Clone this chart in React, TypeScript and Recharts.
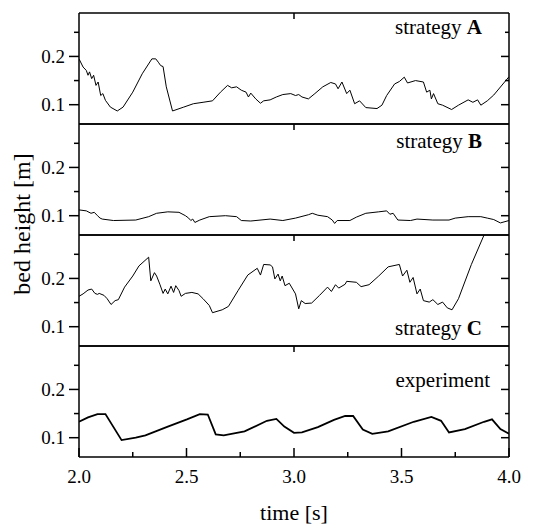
import React from "react";
import { LineChart, Line, XAxis, YAxis } from "recharts";

// strategy A
const timeA = [2.0, 2.019, 2.034, 2.042, 2.049, 2.059, 2.068, 2.079, 2.089, 2.101, 2.111, 2.123, 2.146, 2.178, 2.205, 2.25, 2.294, 2.339, 2.357, 2.369, 2.38, 2.391, 2.406, 2.435, 2.487, 2.532, 2.577, 2.621, 2.658, 2.691, 2.71, 2.733, 2.755, 2.777, 2.788, 2.799, 2.822, 2.844, 2.859, 2.889, 2.918, 2.948, 2.985, 3.007, 3.022, 3.037, 3.067, 3.097, 3.134, 3.171, 3.193, 3.205, 3.223, 3.245, 3.26, 3.282, 3.305, 3.334, 3.386, 3.409, 3.431, 3.468, 3.49, 3.513, 3.528, 3.565, 3.602, 3.617, 3.632, 3.639, 3.649, 3.669, 3.691, 3.733, 3.765, 3.81, 3.832, 3.854, 3.869, 3.899, 3.929, 4.0];
const heightA = [0.195, 0.178, 0.171, 0.161, 0.168, 0.154, 0.161, 0.14, 0.147, 0.119, 0.123, 0.109, 0.095, 0.087, 0.095, 0.126, 0.164, 0.195, 0.195, 0.188, 0.181, 0.179, 0.137, 0.087, 0.095, 0.102, 0.105, 0.108, 0.126, 0.14, 0.135, 0.137, 0.13, 0.126, 0.116, 0.124, 0.112, 0.103, 0.108, 0.11, 0.116, 0.121, 0.123, 0.119, 0.121, 0.116, 0.112, 0.123, 0.137, 0.146, 0.143, 0.133, 0.147, 0.123, 0.13, 0.102, 0.108, 0.094, 0.092, 0.099, 0.119, 0.143, 0.148, 0.157, 0.145, 0.15, 0.147, 0.126, 0.13, 0.112, 0.123, 0.102, 0.099, 0.09, 0.099, 0.11, 0.105, 0.11, 0.099, 0.108, 0.12, 0.158];

// strategy B
const timeB = [2.0, 2.034, 2.056, 2.071, 2.086, 2.098, 2.108, 2.16, 2.264, 2.324, 2.361, 2.413, 2.465, 2.495, 2.51, 2.52, 2.529, 2.539, 2.562, 2.606, 2.681, 2.733, 2.755, 2.799, 2.889, 2.948, 3.007, 3.067, 3.085, 3.111, 3.156, 3.178, 3.189, 3.201, 3.26, 3.29, 3.334, 3.394, 3.431, 3.446, 3.461, 3.483, 3.542, 3.572, 3.646, 3.721, 3.75, 3.81, 3.869, 3.899, 3.929, 3.96, 4.0];
const heightB = [0.112, 0.11, 0.105, 0.107, 0.1, 0.095, 0.093, 0.09, 0.091, 0.098, 0.105, 0.108, 0.107, 0.1, 0.095, 0.09, 0.093, 0.086, 0.091, 0.098, 0.1, 0.098, 0.09, 0.089, 0.093, 0.09, 0.095, 0.102, 0.105, 0.101, 0.098, 0.091, 0.084, 0.09, 0.09, 0.097, 0.105, 0.108, 0.11, 0.103, 0.105, 0.091, 0.09, 0.093, 0.091, 0.091, 0.095, 0.098, 0.098, 0.095, 0.092, 0.085, 0.09];

// strategy C
const timeC = [2.0, 2.019, 2.042, 2.059, 2.074, 2.086, 2.094, 2.116, 2.131, 2.149, 2.168, 2.183, 2.212, 2.25, 2.279, 2.324, 2.334, 2.351, 2.361, 2.376, 2.391, 2.401, 2.413, 2.428, 2.44, 2.45, 2.465, 2.475, 2.495, 2.525, 2.554, 2.577, 2.606, 2.621, 2.666, 2.695, 2.74, 2.785, 2.829, 2.844, 2.859, 2.889, 2.9, 2.911, 2.926, 2.936, 2.945, 2.958, 2.978, 3.007, 3.022, 3.034, 3.052, 3.082, 3.119, 3.156, 3.174, 3.193, 3.208, 3.238, 3.245, 3.29, 3.312, 3.349, 3.394, 3.438, 3.49, 3.505, 3.525, 3.539, 3.554, 3.572, 3.587, 3.602, 3.629, 3.646, 3.669, 3.691, 3.713, 3.735, 3.765, 3.825, 3.884, 3.92];
const heightC = [0.163, 0.168, 0.176, 0.178, 0.169, 0.167, 0.169, 0.165, 0.158, 0.146, 0.154, 0.156, 0.182, 0.205, 0.226, 0.244, 0.195, 0.212, 0.205, 0.188, 0.169, 0.178, 0.168, 0.184, 0.171, 0.185, 0.175, 0.163, 0.169, 0.171, 0.168, 0.158, 0.144, 0.129, 0.135, 0.142, 0.175, 0.207, 0.221, 0.207, 0.229, 0.228, 0.224, 0.199, 0.209, 0.195, 0.205, 0.185, 0.19, 0.168, 0.137, 0.154, 0.148, 0.149, 0.165, 0.182, 0.173, 0.187, 0.18, 0.188, 0.194, 0.192, 0.183, 0.187, 0.205, 0.224, 0.229, 0.205, 0.217, 0.192, 0.202, 0.168, 0.178, 0.154, 0.151, 0.156, 0.146, 0.151, 0.139, 0.135, 0.158, 0.229, 0.29, 0.325];

// experiment
const timeExp = [2.0, 2.042, 2.086, 2.123, 2.198, 2.264, 2.309, 2.413, 2.502, 2.562, 2.599, 2.636, 2.673, 2.77, 2.874, 2.918, 2.955, 3.0, 3.037, 3.111, 3.186, 3.238, 3.275, 3.32, 3.364, 3.438, 3.557, 3.639, 3.684, 3.721, 3.795, 3.884, 3.921, 3.96, 4.0];
const heightExp = [0.133, 0.142, 0.149, 0.149, 0.095, 0.1, 0.105, 0.123, 0.138, 0.149, 0.148, 0.107, 0.105, 0.113, 0.135, 0.139, 0.123, 0.11, 0.111, 0.122, 0.137, 0.145, 0.145, 0.117, 0.108, 0.113, 0.133, 0.143, 0.135, 0.111, 0.118, 0.133, 0.138, 0.118, 0.108];

const yTicks = [0.1, 0.15, 0.2, 0.25];
const yLabelTicks = [0.1, 0.2];
const xTicks = [2, 2.25, 2.5, 2.75, 3, 3.25, 3.5, 3.75, 4];
const xLabelTicks = [2, 2.5, 3, 3.5, 4];

const FONT = '"Liberation Serif", "Times New Roman", serif';
const W = 545;
const PANEL_H = 111;
const PAD = 10;

function LeftTick(props: any) {
  const { x, y, payload } = props;
  const major = yLabelTicks.includes(payload.value);
  return (
    <g>
      <line x1={x - (major ? 10 : 5)} x2={x} y1={y} y2={y} stroke="#000" strokeWidth={1.5} />
      {major && (
        <text x={x - 14} y={y} dy={6.5} textAnchor="end" fontSize={19} fontFamily={FONT} fill="#000">
          {payload.value.toFixed(1)}
        </text>
      )}
    </g>
  );
}

function RightTick(props: any) {
  const { x, y, payload } = props;
  const major = yLabelTicks.includes(payload.value);
  return <line x1={x - (major ? 8 : 4)} x2={x} y1={y} y2={y} stroke="#000" strokeWidth={1.5} />;
}

function TopTick(props: any) {
  const { x, y } = props;
  return <line x1={x} x2={x} y1={y} y2={y + 6} stroke="#000" strokeWidth={1.5} />;
}

function BottomTick(props: any) {
  const { x, y, payload } = props;
  const major = xLabelTicks.includes(payload.value);
  return (
    <g>
      <line x1={x} x2={x} y1={y} y2={y - (major ? 9 : 5)} stroke="#000" strokeWidth={1.5} />
      {major && (
        <text x={x} y={y + 26} textAnchor="middle" fontSize={19} fontFamily={FONT} fill="#000">
          {payload.value.toFixed(1)}
        </text>
      )}
    </g>
  );
}

interface PanelProps {
  times: number[];
  values: number[];
  top: number;
  last?: boolean;
  width?: number;
}

function Panel({ times, values, top, last, width = 1 }: PanelProps) {
  const n = Math.min(times.length, values.length);
  const data = [];
  for (let i = 0; i < n; i++) data.push({ t: times[i], v: values[i] });
  const bottom = last ? 60 : PAD;
  const axisLine = { stroke: "#000", strokeWidth: 1.5 };

  return (
    <div style={{ position: "absolute", left: 0, top: top - PAD }}>
      <LineChart width={W} height={PANEL_H + PAD + bottom} data={data} margin={{ top: 0, right: 0, bottom: 0, left: 0 }}>
        <XAxis
          xAxisId="b"
          dataKey="t"
          type="number"
          domain={[2, 4]}
          allowDataOverflow
          ticks={last ? xTicks : []}
          interval={0}
          height={bottom}
          tickLine={false}
          tickSize={0}
          tickMargin={0}
          tick={last ? <BottomTick /> : false}
          axisLine={axisLine}
        />
        <XAxis
          xAxisId="top"
          orientation="top"
          dataKey="t"
          type="number"
          domain={[2, 4]}
          ticks={[3]}
          interval={0}
          height={PAD}
          tickLine={false}
          tickSize={0}
          tickMargin={0}
          tick={<TopTick />}
          axisLine={axisLine}
        />
        <YAxis
          yAxisId="l"
          type="number"
          domain={[0.06, 0.29]}
          allowDataOverflow
          ticks={yTicks}
          interval={0}
          width={79}
          tickLine={false}
          tickSize={0}
          tickMargin={0}
          tick={<LeftTick />}
          axisLine={axisLine}
        />
        <YAxis
          yAxisId="r"
          orientation="right"
          type="number"
          domain={[0.06, 0.29]}
          allowDataOverflow
          ticks={yTicks}
          interval={0}
          width={36}
          tickLine={false}
          tickSize={0}
          tickMargin={0}
          tick={<RightTick />}
          axisLine={axisLine}
        />
        <Line
          xAxisId="b"
          yAxisId="l"
          type="linear"
          dataKey="v"
          stroke="#000"
          strokeWidth={width}
          dot={false}
          isAnimationActive={false}
        />
      </LineChart>
    </div>
  );
}

export default function App() {
  const tops = [13, 124, 235, 346];
  const label = { fontFamily: FONT, fontSize: 21, fill: "#000" };

  return (
    <div style={{ position: "absolute", left: 0, top: 0, width: W, height: 525, background: "#fff" }}>
      <Panel times={timeA} values={heightA} top={tops[0]} />
      <Panel times={timeB} values={heightB} top={tops[1]} />
      <Panel times={timeC} values={heightC} top={tops[2]} />
      <Panel times={timeExp} values={heightExp} top={tops[3]} last width={1.8} />
      <svg width={W} height={525} style={{ position: "absolute", left: 0, top: 0, pointerEvents: "none" }}>
        <text x={482} y={34} textAnchor="end" {...label}>
          strategy <tspan fontWeight="bold">A</tspan>
        </text>
        <text x={482} y={148} textAnchor="end" {...label}>
          strategy <tspan fontWeight="bold">B</tspan>
        </text>
        <text x={482} y={335} textAnchor="end" {...label}>
          strategy <tspan fontWeight="bold">C</tspan>
        </text>
        <text x={490} y={387} textAnchor="end" {...label}>
          experiment
        </text>
        <text x={294} y={520} textAnchor="middle" fontFamily={FONT} fontSize={22} fill="#000">
          time [s]
        </text>
        <text x={30} y={224} textAnchor="middle" transform="rotate(-90 30 224)" fontFamily={FONT} fontSize={24} fill="#000">
          bed height [m]
        </text>
      </svg>
    </div>
  );
}
